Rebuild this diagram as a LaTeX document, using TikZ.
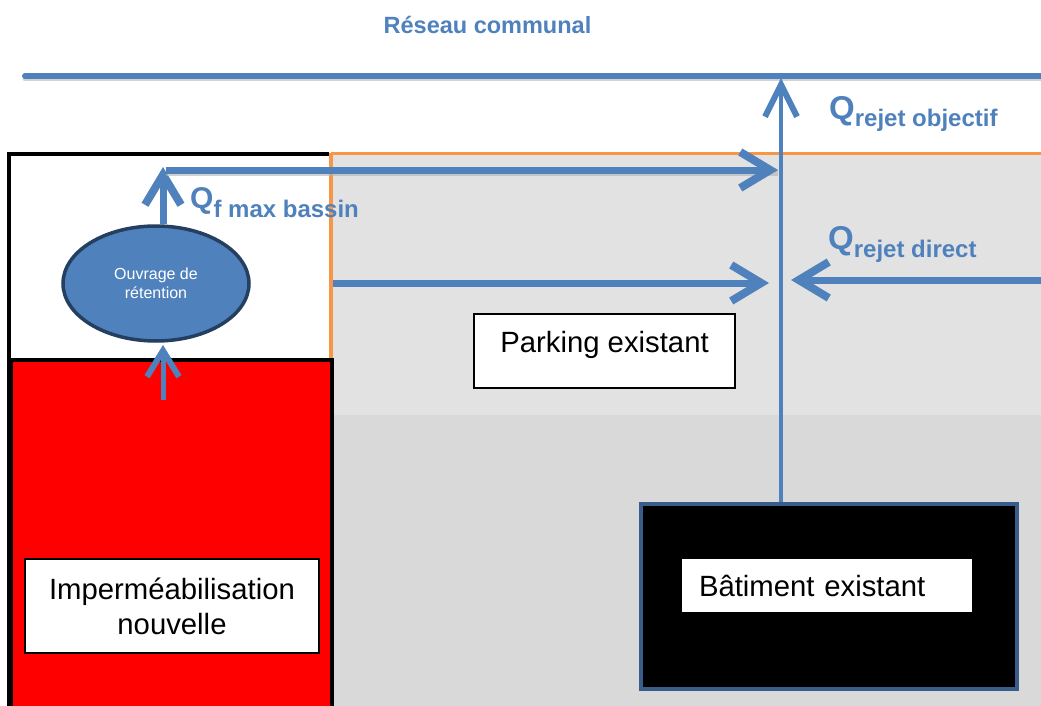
\documentclass[tikz,border=0pt]{standalone}
\usepackage{fontspec}
\setmainfont{Liberation Sans}
\usetikzlibrary{arrows.meta,shapes.geometric}
\definecolor{flow}{HTML}{4F81BD}
\definecolor{navy}{HTML}{243F60}
\definecolor{bldb}{HTML}{385D8A}
\definecolor{orangel}{HTML}{F79646}
\definecolor{grayA}{HTML}{D9D9D9}
\definecolor{grayL}{HTML}{E2E2E2}
\definecolor{redz}{HTML}{FF0000}
\tikzset{
  labelbox/.style={draw=black, line width=1.2pt, fill=white, inner sep=0pt,
    font=\fontsize{29.3}{35}\selectfont, align=center},
  flowarrow/.style={draw=flow, line width=7pt,
    -{Straight Barb[length=30pt,width=36pt,line width=8pt]}},
  thinarrow/.style={draw=flow, line width=5pt,
    -{Straight Barb[length=26pt,width=32pt,line width=6pt]}},
  mainline/.style={draw=flow, line width=4.5pt,
    -{Straight Barb[length=32pt,width=32pt,line width=6pt]}},
  qlabel/.style={text=flow, inner sep=0pt, anchor=base west, font=\bfseries},
  border/.style={draw=black, line width=4pt}
}
\newcommand{\qsub}[3]{{\fontsize{#1}{#1}\selectfont Q}\raisebox{-#3}{\fontsize{24}{24}\selectfont #2}}
\begin{document}
\begin{tikzpicture}[x=1pt,y=-1pt]
\useasboundingbox (0,0) rectangle (1041,706);
\fill[white] (0,0) rectangle (1041,706);
% grey areas
\fill[grayA] (331,153) rectangle (1045,710);
\fill[grayL] (331,153) rectangle (1045,415);
% orange limits
\draw[orangel, line width=3pt] (331,153) -- (1045,153);
\draw[orangel, line width=4pt] (331,153) -- (331,358);
% left white box border
\draw[border] (9,712) -- (9,154) -- (329,154);
% red zone
\node[fill=redz, draw=black, line width=4pt, minimum width=321pt, minimum height=360pt, anchor=north west, inner sep=0pt] (imp) at (9,358) {};
\node[labelbox, minimum width=294pt, minimum height=94pt] (implbl) at (172,606) {Imperméabilisation\\nouvelle};
% building
\node[fill=black, draw=bldb, line width=4pt, minimum width=376pt, minimum height=185pt, anchor=north west, inner sep=0pt] (bat) at (639,502) {};
\node[labelbox, minimum width=292pt, minimum height=55pt, text width=256pt, align=left, inner xsep=18pt] (batlbl) at (827,585.5) {Bâtiment existant};
% parking label
\node[labelbox, minimum width=261pt, minimum height=74pt] (park) at (604.5,351) {\smash{\raisebox{-1pt}{Parking existant}}};
% title
\node[text=flow, font=\bfseries\fontsize{23.5}{26}\selectfont] (title) at (487.5,25) {Réseau communal};
% pipe
\coordinate (pL) at (25,76);
\coordinate (pR) at (1045,76);
\draw[gray!35, line width=5pt, line cap=round] ([yshift=-3pt]pL) -- ([yshift=-3pt]pR);
\draw[flow, line width=6pt, line cap=round] (pL) -- (pR);
% retention basin
\node[ellipse, fill=flow, draw=navy, line width=3.5pt, minimum width=186pt, minimum height=115pt,
  text=white, font=\fontsize{16}{19}\selectfont, align=center, inner sep=0pt] (ell) at (156,283.5) {Ouvrage de\\rétention};
% coordinates
\coordinate (in0) at (163,400);
\coordinate (in1) at (163,345);
\coordinate (t1) at (163,167);
\coordinate (h0) at (166,170);
\coordinate (h1) at (778,170);
\coordinate (m0) at (333,283);
\coordinate (m1) at (769,283);
\coordinate (r0) at (1045,280);
\coordinate (r1) at (791,280);
\coordinate (J) at (781,78);
% arrows
\draw[thinarrow] (in0) -- (in1);
\draw[flowarrow] (ell.north -| t1) -- (t1);
\draw[gray!60, line width=6pt, opacity=0.6] ([yshift=-3pt]h0) -- ([yshift=-3pt]h1);
\draw[flowarrow] (h0) -- (h1);
\draw[flowarrow] (m0) -- (m1);
\draw[flowarrow] (r0) -- (r1);
\draw[mainline] (bat.north -| J) -- (J);
% labels
\node[qlabel] (qobj) at (829,120) {\qsub{33}{rejet objectif}{7pt}};
\node[qlabel] (qdir) at (828,249) {\qsub{33}{rejet direct}{8pt}};
\node[qlabel] (qbas) at (190,208) {\qsub{30}{f max bassin}{9pt}};
\end{tikzpicture}
\end{document}
